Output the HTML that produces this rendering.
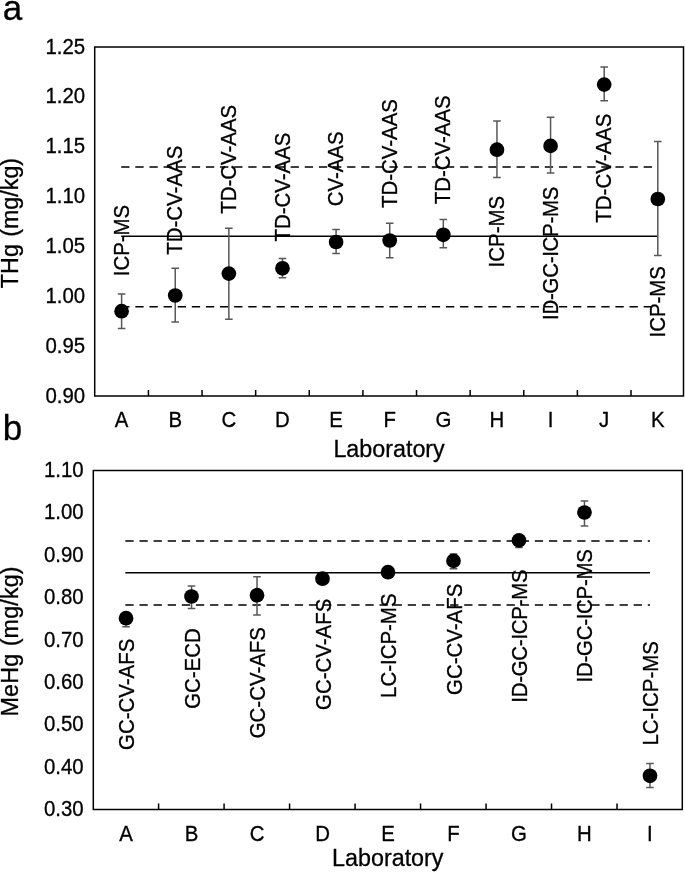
<!DOCTYPE html>
<html><head><meta charset="utf-8"><title>THg and MeHg results by laboratory</title>
<style>
html,body{margin:0;padding:0;background:#fff;}
body{width:685px;height:872px;overflow:hidden;}
svg{display:block;}
text{font-family:"Liberation Sans", Arial, Helvetica, sans-serif;fill:#000;stroke:#000;stroke-width:0.3px;}
.t{font-size:20.4px;}
.dl{font-size:20.45px;}
.at{font-size:23.3px;}
.pl{font-size:35px;}
.eb{stroke:#585858;stroke-width:1.5;fill:none;}
.rl{stroke:#000;stroke-width:1.5;}
circle{fill:#000;}
</style></head>
<body>
<svg width="685" height="872" viewBox="0 0 685 872">
<rect width="685" height="872" fill="#fff"/>
<rect x="94.7" y="47" width="588.8" height="349" fill="none" stroke="#000" stroke-width="1.5"/>
<line x1="148.42" y1="396" x2="148.42" y2="390" stroke="#000" stroke-width="1.5"/>
<line x1="202.04" y1="396" x2="202.04" y2="390" stroke="#000" stroke-width="1.5"/>
<line x1="255.66" y1="396" x2="255.66" y2="390" stroke="#000" stroke-width="1.5"/>
<line x1="309.28" y1="396" x2="309.28" y2="390" stroke="#000" stroke-width="1.5"/>
<line x1="362.9" y1="396" x2="362.9" y2="390" stroke="#000" stroke-width="1.5"/>
<line x1="416.52" y1="396" x2="416.52" y2="390" stroke="#000" stroke-width="1.5"/>
<line x1="470.14" y1="396" x2="470.14" y2="390" stroke="#000" stroke-width="1.5"/>
<line x1="523.76" y1="396" x2="523.76" y2="390" stroke="#000" stroke-width="1.5"/>
<line x1="577.38" y1="396" x2="577.38" y2="390" stroke="#000" stroke-width="1.5"/>
<line x1="631" y1="396" x2="631" y2="390" stroke="#000" stroke-width="1.5"/>
<text transform="translate(85.1,402.6) scale(1,1.07)" text-anchor="end" class="t">0.90</text>
<text transform="translate(85.1,352.74) scale(1,1.07)" text-anchor="end" class="t">0.95</text>
<text transform="translate(85.1,302.89) scale(1,1.07)" text-anchor="end" class="t">1.00</text>
<text transform="translate(85.1,253.03) scale(1,1.07)" text-anchor="end" class="t">1.05</text>
<text transform="translate(85.1,203.17) scale(1,1.07)" text-anchor="end" class="t">1.10</text>
<text transform="translate(85.1,153.31) scale(1,1.07)" text-anchor="end" class="t">1.15</text>
<text transform="translate(85.1,103.46) scale(1,1.07)" text-anchor="end" class="t">1.20</text>
<text transform="translate(85.1,53.6) scale(1,1.07)" text-anchor="end" class="t">1.25</text>
<text transform="translate(121.61,426.7) scale(1,1.07)" text-anchor="middle" class="t">A</text>
<text transform="translate(175.23,426.7) scale(1,1.07)" text-anchor="middle" class="t">B</text>
<text transform="translate(228.85,426.7) scale(1,1.07)" text-anchor="middle" class="t">C</text>
<text transform="translate(282.47,426.7) scale(1,1.07)" text-anchor="middle" class="t">D</text>
<text transform="translate(336.09,426.7) scale(1,1.07)" text-anchor="middle" class="t">E</text>
<text transform="translate(389.71,426.7) scale(1,1.07)" text-anchor="middle" class="t">F</text>
<text transform="translate(443.33,426.7) scale(1,1.07)" text-anchor="middle" class="t">G</text>
<text transform="translate(496.95,426.7) scale(1,1.07)" text-anchor="middle" class="t">H</text>
<text transform="translate(550.57,426.7) scale(1,1.07)" text-anchor="middle" class="t">I</text>
<text transform="translate(604.19,426.7) scale(1,1.07)" text-anchor="middle" class="t">J</text>
<text transform="translate(657.81,426.7) scale(1,1.07)" text-anchor="middle" class="t">K</text>
<text x="389.1" y="456.6" text-anchor="middle" class="at">Laboratory</text>
<text transform="translate(18.1,223) rotate(-90)" text-anchor="middle" class="at" letter-spacing="0">THg <tspan dx="0.8">(mg/kg)</tspan></text>
<text x="2.8" y="20.2" class="pl">a</text>
<line x1="121.21" y1="236.2" x2="657.81" y2="236.2" class="rl"/>
<line x1="121.21" y1="166.9" x2="657.81" y2="166.9" class="rl" stroke-dasharray="8.3 5.82"/>
<line x1="121.21" y1="306.7" x2="657.81" y2="306.7" class="rl" stroke-dasharray="8.3 5.82"/>
<text transform="translate(128.71,240.55) rotate(-90) scale(1,1.07)" text-anchor="middle" class="dl">ICP-MS</text>
<text transform="translate(182.33,200.2) rotate(-90) scale(1,1.07)" text-anchor="middle" class="dl">TD-CV-AAS</text>
<text transform="translate(235.95,159.25) rotate(-90) scale(1,1.07)" text-anchor="middle" class="dl">TD-CV-AAS</text>
<text transform="translate(289.57,187.1) rotate(-90) scale(1,1.07)" text-anchor="middle" class="dl">TD-CV-AAS</text>
<text transform="translate(343.19,168.85) rotate(-90) scale(1,1.07)" text-anchor="middle" class="dl">CV-AAS</text>
<text transform="translate(396.81,153.5) rotate(-90) scale(1,1.07)" text-anchor="middle" class="dl">TD-CV-AAS</text>
<text transform="translate(450.43,149.8) rotate(-90) scale(1,1.07)" text-anchor="middle" class="dl">TD-CV-AAS</text>
<text transform="translate(504.05,231.65) rotate(-90) scale(1,1.07)" text-anchor="middle" class="dl">ICP-MS</text>
<text transform="translate(557.67,253.4) rotate(-90) scale(1,1.07)" text-anchor="middle" class="dl" letter-spacing="-0.25">ID-GC-ICP-MS</text>
<text transform="translate(611.29,168.15) rotate(-90) scale(1,1.07)" text-anchor="middle" class="dl">TD-CV-AAS</text>
<text transform="translate(664.91,301.8) rotate(-90) scale(1,1.07)" text-anchor="middle" class="dl">ICP-MS</text>
<path d="M121.61 311.2V293.9M117.81 293.9H125.41" class="eb"/>
<path d="M121.61 311.2V328.4M117.81 328.4H125.41" class="eb"/>
<circle cx="121.61" cy="311.2" r="7.35"/>
<path d="M175.23 295.5V268.2M171.43 268.2H179.03" class="eb"/>
<path d="M175.23 295.5V322M171.43 322H179.03" class="eb"/>
<circle cx="175.23" cy="295.5" r="7.35"/>
<path d="M228.85 273.6V228.2M225.05 228.2H232.65" class="eb"/>
<path d="M228.85 273.6V319.2M225.05 319.2H232.65" class="eb"/>
<circle cx="228.85" cy="273.6" r="7.35"/>
<path d="M282.47 268.3V258.6M278.67 258.6H286.27" class="eb"/>
<path d="M282.47 268.3V277.8M278.67 277.8H286.27" class="eb"/>
<circle cx="282.47" cy="268.3" r="7.35"/>
<path d="M336.09 242V229.6M332.29 229.6H339.89" class="eb"/>
<path d="M336.09 242V253.4M332.29 253.4H339.89" class="eb"/>
<circle cx="336.09" cy="242" r="7.35"/>
<path d="M389.71 240.5V223.3M385.91 223.3H393.51" class="eb"/>
<path d="M389.71 240.5V257.7M385.91 257.7H393.51" class="eb"/>
<circle cx="389.71" cy="240.5" r="7.35"/>
<path d="M443.33 234.8V219.6M439.53 219.6H447.13" class="eb"/>
<path d="M443.33 234.8V247.7M439.53 247.7H447.13" class="eb"/>
<circle cx="443.33" cy="234.8" r="7.35"/>
<path d="M496.95 149.7V121M493.15 121H500.75" class="eb"/>
<path d="M496.95 149.7V177.5M493.15 177.5H500.75" class="eb"/>
<circle cx="496.95" cy="149.7" r="7.35"/>
<path d="M550.57 145.9V117.2M546.77 117.2H554.37" class="eb"/>
<path d="M550.57 145.9V173.1M546.77 173.1H554.37" class="eb"/>
<circle cx="550.57" cy="145.9" r="7.35"/>
<path d="M604.19 84.6V67.1M600.39 67.1H607.99" class="eb"/>
<path d="M604.19 84.6V100.7M600.39 100.7H607.99" class="eb"/>
<circle cx="604.19" cy="84.6" r="7.35"/>
<path d="M657.81 199V141.5M654.01 141.5H661.61" class="eb"/>
<path d="M657.81 199V255.4M654.01 255.4H661.61" class="eb"/>
<circle cx="657.81" cy="199" r="7.35"/>
<rect x="93.3" y="470.5" width="589" height="339" fill="none" stroke="#000" stroke-width="1.5"/>
<line x1="158.59" y1="809.5" x2="158.59" y2="803.5" stroke="#000" stroke-width="1.5"/>
<line x1="224.08" y1="809.5" x2="224.08" y2="803.5" stroke="#000" stroke-width="1.5"/>
<line x1="289.57" y1="809.5" x2="289.57" y2="803.5" stroke="#000" stroke-width="1.5"/>
<line x1="355.06" y1="809.5" x2="355.06" y2="803.5" stroke="#000" stroke-width="1.5"/>
<line x1="420.55" y1="809.5" x2="420.55" y2="803.5" stroke="#000" stroke-width="1.5"/>
<line x1="486.04" y1="809.5" x2="486.04" y2="803.5" stroke="#000" stroke-width="1.5"/>
<line x1="551.53" y1="809.5" x2="551.53" y2="803.5" stroke="#000" stroke-width="1.5"/>
<line x1="617.02" y1="809.5" x2="617.02" y2="803.5" stroke="#000" stroke-width="1.5"/>
<text transform="translate(83.7,816.1) scale(1,1.07)" text-anchor="end" class="t">0.30</text>
<text transform="translate(83.7,773.73) scale(1,1.07)" text-anchor="end" class="t">0.40</text>
<text transform="translate(83.7,731.35) scale(1,1.07)" text-anchor="end" class="t">0.50</text>
<text transform="translate(83.7,688.98) scale(1,1.07)" text-anchor="end" class="t">0.60</text>
<text transform="translate(83.7,646.6) scale(1,1.07)" text-anchor="end" class="t">0.70</text>
<text transform="translate(83.7,604.23) scale(1,1.07)" text-anchor="end" class="t">0.80</text>
<text transform="translate(83.7,561.85) scale(1,1.07)" text-anchor="end" class="t">0.90</text>
<text transform="translate(83.7,519.48) scale(1,1.07)" text-anchor="end" class="t">1.00</text>
<text transform="translate(83.7,477.1) scale(1,1.07)" text-anchor="end" class="t">1.10</text>
<text transform="translate(126.04,841.1) scale(1,1.07)" text-anchor="middle" class="t">A</text>
<text transform="translate(191.53,841.1) scale(1,1.07)" text-anchor="middle" class="t">B</text>
<text transform="translate(257.02,841.1) scale(1,1.07)" text-anchor="middle" class="t">C</text>
<text transform="translate(322.51,841.1) scale(1,1.07)" text-anchor="middle" class="t">D</text>
<text transform="translate(388,841.1) scale(1,1.07)" text-anchor="middle" class="t">E</text>
<text transform="translate(453.5,841.1) scale(1,1.07)" text-anchor="middle" class="t">F</text>
<text transform="translate(518.98,841.1) scale(1,1.07)" text-anchor="middle" class="t">G</text>
<text transform="translate(584.47,841.1) scale(1,1.07)" text-anchor="middle" class="t">H</text>
<text transform="translate(649.96,841.1) scale(1,1.07)" text-anchor="middle" class="t">I</text>
<text x="387.8" y="865.8" text-anchor="middle" class="at">Laboratory</text>
<text transform="translate(18,641.4) rotate(-90)" text-anchor="middle" class="at" letter-spacing="0.15">MeHg <tspan dx="0.8">(mg/kg)</tspan></text>
<text x="2.8" y="440.2" class="pl">b</text>
<line x1="125.34" y1="572.8" x2="649.96" y2="572.8" class="rl"/>
<line x1="125.34" y1="540.9" x2="649.96" y2="540.9" class="rl" stroke-dasharray="8.3 5.82"/>
<line x1="125.34" y1="604.9" x2="649.96" y2="604.9" class="rl" stroke-dasharray="8.3 5.82"/>
<text transform="translate(134.04,694.35) rotate(-90) scale(1,1.07)" text-anchor="middle" class="dl">GC-CV-AFS</text>
<text transform="translate(199.53,668.55) rotate(-90) scale(1,1.07)" text-anchor="middle" class="dl">GC-ECD</text>
<text transform="translate(265.02,682.7) rotate(-90) scale(1,1.07)" text-anchor="middle" class="dl">GC-CV-AFS</text>
<text transform="translate(330.51,654.3) rotate(-90) scale(1,1.07)" text-anchor="middle" class="dl">GC-CV-AFS</text>
<text transform="translate(396,645.7) rotate(-90) scale(1,1.07)" text-anchor="middle" class="dl">LC-ICP-MS</text>
<text transform="translate(461.5,639.35) rotate(-90) scale(1,1.07)" text-anchor="middle" class="dl">GC-CV-AFS</text>
<text transform="translate(526.98,636.2) rotate(-90) scale(1,1.07)" text-anchor="middle" class="dl" letter-spacing="-0.25">ID-GC-ICP-MS</text>
<text transform="translate(592.47,615.9) rotate(-90) scale(1,1.07)" text-anchor="middle" class="dl" letter-spacing="-0.25">ID-GC-ICP-MS</text>
<text transform="translate(657.96,693.35) rotate(-90) scale(1,1.07)" text-anchor="middle" class="dl">LC-ICP-MS</text>
<path d="M126.04 618.2V626.7M122.24 626.7H129.84" class="eb"/>
<circle cx="126.04" cy="618.2" r="7.35"/>
<path d="M191.53 596.5V585.9M187.73 585.9H195.33" class="eb"/>
<path d="M191.53 596.5V608.6M187.73 608.6H195.33" class="eb"/>
<circle cx="191.53" cy="596.5" r="7.35"/>
<path d="M257.02 595.2V576.8M253.22 576.8H260.82" class="eb"/>
<path d="M257.02 595.2V615M253.22 615H260.82" class="eb"/>
<circle cx="257.02" cy="595.2" r="7.35"/>
<circle cx="322.51" cy="578.7" r="7.35"/>
<circle cx="388" cy="572.2" r="7.35"/>
<path d="M453.5 560.9V554M449.69 554H457.3" class="eb"/>
<path d="M453.5 560.9V568.8M449.69 568.8H457.3" class="eb"/>
<circle cx="453.5" cy="560.9" r="7.35"/>
<path d="M518.98 540.4V547.6M515.18 547.6H522.78" class="eb"/>
<circle cx="518.98" cy="540.4" r="7.35"/>
<path d="M584.47 512.5V501M580.67 501H588.27" class="eb"/>
<path d="M584.47 512.5V526M580.67 526H588.27" class="eb"/>
<circle cx="584.47" cy="512.5" r="7.35"/>
<path d="M649.96 775.8V763.5M646.16 763.5H653.76" class="eb"/>
<path d="M649.96 775.8V787.5M646.16 787.5H653.76" class="eb"/>
<circle cx="649.96" cy="775.8" r="7.35"/>
</svg>
</body></html>
